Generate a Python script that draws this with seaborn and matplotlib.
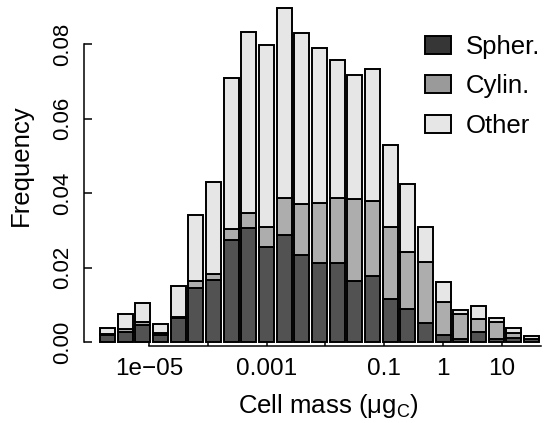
import numpy as np
import pandas as pd
import matplotlib
matplotlib.use("Agg")
import matplotlib.pyplot as plt
from matplotlib.patches import Patch
import seaborn as sns

# ---- data ----
log2_mass = list(range(-19, 6))          # bin centres are 2**k (ug C)
spher = [0.0018, 0.0028, 0.0045, 0.0020, 0.0064, 0.0144, 0.0166, 0.0275, 0.0307,
         0.0256, 0.0287, 0.0233, 0.0213, 0.0213, 0.0163, 0.0178, 0.0115, 0.0088,
         0.0052, 0.0018, 0.0007, 0.0027, 0.0007, 0.0012, 0.0009]
cylin = [0.0004, 0.0006, 0.0010, 0.0004, 0.0002, 0.0019, 0.0018, 0.0029, 0.0040,
         0.0053, 0.0099, 0.0137, 0.0161, 0.0173, 0.0221, 0.0201, 0.0193, 0.0154,
         0.0163, 0.0090, 0.0067, 0.0036, 0.0047, 0.0011, 0.0000]
other = [0.0016, 0.0041, 0.0050, 0.0024, 0.0085, 0.0178, 0.0245, 0.0407, 0.0487,
         0.0490, 0.0511, 0.0460, 0.0415, 0.0372, 0.0334, 0.0356, 0.0221, 0.0183,
         0.0094, 0.0053, 0.0013, 0.0033, 0.0011, 0.0015, 0.0006]
categories = ["Spher.", "Cylin.", "Other"]
x_tick_values = [1e-5, 1e-4, 1e-3, 1e-2, 1e-1, 1, 10]
x_tick_labels = ["1e\u221205", "", "0.001", "", "0.1", "1", "10"]
y_tick_values = [0.0, 0.02, 0.04, 0.06, 0.08]
y_tick_labels = ["0.00", "0.02", "0.04", "0.06", "0.08"]

bar_colors = {"Spher.": "#525252", "Cylin.": "#adadad", "Other": "#e6e6e6"}
legend_colors = {"Spher.": "#363636", "Cylin.": "#9a9a9a", "Other": "#e6e6e6"}

rows = []
for k, s, c, o in zip(log2_mass, spher, cylin, other):
    m = 2.0 ** k
    rows += [(m, "Spher.", s), (m, "Cylin.", c), (m, "Other", o)]
df = pd.DataFrame(rows, columns=["mass", "type", "freq"])

sns.set_style("ticks")
plt.rcParams["font.family"] = ["Liberation Sans", "DejaVu Sans"]
plt.rcParams["mathtext.fontset"] = "custom"
plt.rcParams["mathtext.rm"] = "Liberation Sans"
plt.rcParams["mathtext.it"] = "Liberation Sans"
plt.rcParams["mathtext.default"] = "regular"
plt.rcParams.update({"text.color": "black", "axes.labelcolor": "black",
                     "xtick.color": "black", "ytick.color": "black",
                     "axes.edgecolor": "black"})

W, H = 551, 423
fig = plt.figure(figsize=(W / 100, H / 100), dpi=100)
left_px, right_px, bottom_px, top_px = 84, 541, 345.7, 4
ax = fig.add_axes([left_px / W, (H - bottom_px) / H,
                   (right_px - left_px) / W, (bottom_px - top_px) / H])

edges = [float(v) for v in np.log10(2.0) * (np.arange(log2_mass[0], log2_mass[-1] + 2) - 0.5)]
sns.histplot(data=df, x="mass", weights="freq", hue="type",
             hue_order=["Other", "Cylin.", "Spher."], multiple="stack",
             bins=edges, log_scale=True, shrink=0.85, palette=bar_colors,
             edgecolor="black", linewidth=1.4, alpha=1, legend=False, ax=ax)

# axis geometry (pixel calibrated)
dec_px = 58.7
x0_px = 149.3  # position of 1e-05
xl = 10 ** (-5 + (left_px - x0_px) / dec_px)
xr = 10 ** (-5 + (right_px - x0_px) / dec_px)
ax.set_xlim(xl, xr)
ppu = 3720.0
ax.set_ylim(-(bottom_px - 342) / ppu, (342 - top_px) / ppu)

ax.set_xticks(x_tick_values)
ax.set_xticklabels(x_tick_labels)
ax.xaxis.set_minor_locator(matplotlib.ticker.NullLocator())
ax.set_yticks(y_tick_values)
ax.set_yticklabels(y_tick_labels, rotation=90, va="center")

for sp in ["top", "right"]:
    ax.spines[sp].set_visible(False)
for sp in ["left", "bottom"]:
    ax.spines[sp].set_linewidth(1.1)
    ax.spines[sp].set_color("black")
ax.spines["left"].set_bounds(0, 0.08)
ax.spines["bottom"].set_bounds(1e-5, xr)

ax.tick_params(axis="both", direction="in", length=5.5, width=1.1, color="black",
               labelcolor="black")
ax.tick_params(axis="x", labelsize=17.5, pad=8.5)
ax.tick_params(axis="y", labelsize=16, pad=8)

ax.set_xlabel("Cell mass (\u03bcg$_{C}$)", fontsize=18.5, color="black")
ax.set_ylabel("Frequency", fontsize=18.5, color="black")
ax.xaxis.set_label_coords((328 - left_px) / (right_px - left_px),
                          (bottom_px - 392) / (bottom_px - top_px))
ax.yaxis.set_label_coords((33 - left_px) / (right_px - left_px),
                          (bottom_px - 165) / (bottom_px - top_px))

handles = [Patch(facecolor=legend_colors[c], edgecolor="black", linewidth=1.4, label=c)
           for c in categories]
leg = ax.legend(handles=handles, loc="upper left",
                bbox_to_anchor=(425 / W, 1 - 35 / H), bbox_transform=fig.transFigure,
                frameon=False, borderpad=0, borderaxespad=0, fontsize=18.5,
                handlelength=1.0, handleheight=0.7, handletextpad=0.6,
                labelspacing=0.6)
for t in leg.get_texts():
    t.set_color("black")

fig.savefig("out.png", dpi=100)
